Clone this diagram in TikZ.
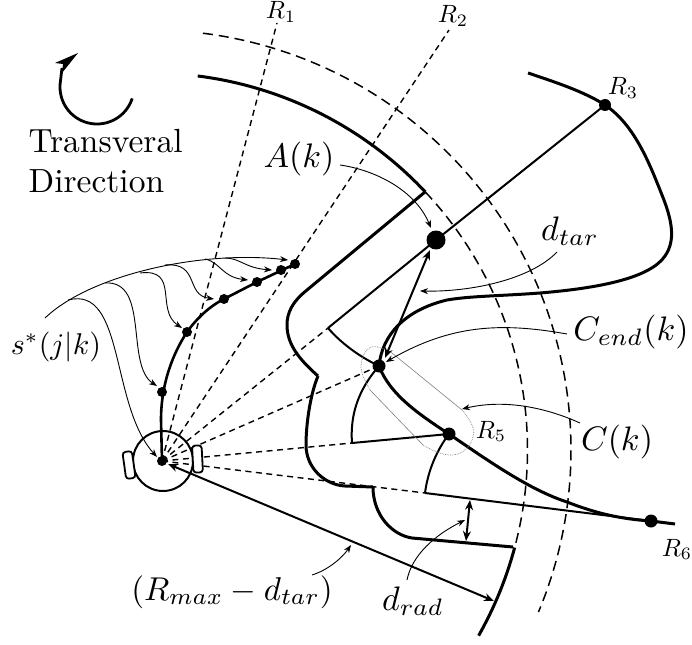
\documentclass[tikz,border=0pt]{standalone}
\usetikzlibrary{arrows.meta}
\tikzset{
  every picture/.style={x=1pt,y=-1pt},
  heavy/.style={line width=3pt,line join=round},
  solidline/.style={line width=2pt},
  rayline/.style={line width=1.4pt,dash pattern=on 6pt off 4.5pt},
  arcdash/.style={line width=1.5pt,dash pattern=on 10pt off 6pt},
  thinline/.style={line width=0.9pt},
  dotnode/.style={circle,fill=black,inner sep=0pt,minimum size=#1},
  biglabel/.style={scale=3.4,inner sep=0pt},
  rlabel/.style={scale=2.5,inner sep=0pt},
  wordlabel/.style={scale=3.35,inner sep=0pt},
  tipA/.style={-{Stealth[length=8pt,width=6pt]}},
  tipB/.style={{Stealth[length=10pt,width=8pt]}-{Stealth[length=10pt,width=8pt]}},
  wheel/.style={draw,line width=1.8pt,rounded corners=3pt,minimum width=9.5pt,minimum height=27pt,inner sep=0pt,fill=white}
}
\begin{document}
\begin{tikzpicture}
\useasboundingbox (0,0) rectangle (692,644);
% key coordinates
\coordinate (O) at (162,461);
\coordinate (rayA) at (277,23);
\coordinate (rayB) at (449,30);
\coordinate (elbowA) at (328,328);
\coordinate (elbowB) at (352,443);
\coordinate (elbowC) at (425,493);
\coordinate (cend) at (379,366);
\coordinate (rfive) at (449,434);
\coordinate (rthree) at (605,105);
\coordinate (rsix) at (651,521);
\coordinate (target) at (436,240);
\coordinate (wall) at (494,601);
% dashed rays
\draw[rayline] (O) -- (rayA);
\draw[rayline] (O) -- (rayB);
\draw[rayline] (O) -- (elbowA);
\draw[rayline] (O) -- (cend);
\draw[rayline] (O) -- (elbowB);
\draw[rayline] (O) -- (elbowC);
% dashed arcs
\draw[arcdash] plot[domain=-82.9:22.7,samples=120] ({151+420*cos(\x)},{450+420*sin(\x)});
\draw[arcdash] plot[domain=-43.2:15,samples=80] ({150.5+377*cos(\x)},{450+377*sin(\x)});
% wall arcs
\draw[heavy] plot[domain=-82.8:-43.2,samples=60] ({150.5+377*cos(\x)},{450+377*sin(\x)});
\draw[heavy] plot[domain=15:29.5,samples=30] ({150.5+377*cos(\x)},{450+377*sin(\x)});
% corridor boundary
\draw[heavy] (425,192) -- (307,290) .. controls (292,302) and (287,313) .. (287,325)
   .. controls (287,345) and (300,360) .. (318,376);
\draw[heavy] (318,376) .. controls (310,395) and (306,425) .. (306,445)
   .. controls (306,468) and (325,485) .. (345,486) -- (373,487);
\draw[heavy] (373,487) .. controls (373,515) and (392,535) .. (412,538) -- (513,547);
% target solid lines
\draw[solidline] (elbowA) -- (target) -- (rthree);
\draw[solidline] (elbowB) -- (rfive);
\draw[solidline] (elbowC) -- (rsix);
\draw[solidline] (elbowA) .. controls (340,342) and (358,356) .. (cend);
\draw[solidline] (elbowB) .. controls (350,415) and (358,390) .. (cend);
\draw[solidline] (elbowC) .. controls (428,470) and (437,450) .. (rfive);
% centreline
\draw[heavy] (528,73) .. controls (555,82) and (585,92) .. (rthree)
   .. controls (635,125) and (650,165) .. (662,195)
   .. controls (672,220) and (676,240) .. (665,256)
   .. controls (650,278) and (600,288) .. (540,293)
   .. controls (500,296) and (470,296) .. (447,300)
   .. controls (405,310) and (382,335) .. (cend);
\draw[heavy] (cend) .. controls (390,395) and (420,415) .. (rfive)
   .. controls (490,462) and (530,490) .. (567,502)
   .. controls (595,513) and (620,519) .. (rsix) -- (675,524);
% capsule
\draw[gray,line width=0.6pt] (392,353) -- (462,410);
\draw[gray,line width=0.6pt] (370,390) -- (423,445);
\draw[gray,line width=0.7pt,densely dotted] plot[smooth,tension=0.7] coordinates {(370,390) (362,373) (362,360) (368,349) (378,347) (392,353)};
\draw[gray,line width=0.7pt,densely dotted] plot[smooth,tension=0.7] coordinates {(462,410) (472,425) (473,437) (466,449) (453,455) (437,452) (423,445)};
% robot
\draw[line width=2pt] (163,461) circle (30);
\node[wheel,rotate=8] (wheelL) at (129,465) {};
\node[wheel,rotate=3] (wheelR) at (197.5,459) {};
% trajectory
\draw[heavy,line width=2.6pt] (O) -- (161,420) .. controls (161,385) and (172,355) .. (187,332)
   .. controls (197,318) and (210,306) .. (224,299) -- (257,282) -- (295,264);
\node[dotnode=10pt] (robot) at (O) {};
\node[dotnode=10pt] (sA) at (162,392) {};
\node[dotnode=10pt] (sB) at (187,332) {};
\node[dotnode=10pt] (sC) at (224,299) {};
\node[dotnode=10pt] (sD) at (257,282) {};
\node[dotnode=10pt] (sE) at (281,270) {};
\node[dotnode=10pt] (sF) at (295,264) {};
\node[dotnode=13pt] (cendDot) at (cend) {};
\node[dotnode=13pt] (rfiveDot) at (rfive) {};
\node[dotnode=12pt] (rthreeDot) at (rthree) {};
\node[dotnode=13pt] (rsixDot) at (rsix) {};
\node[dotnode=19pt] (targetDot) at (target) {};
% s* fan
\coordinate (fanStart) at (45,318);
\draw[thinline,tipA] (fanStart) .. controls (90,275) and (200,250) .. (288,260);
\draw[thinline,tipA] (68,300) .. controls (125,285) and (110,405) .. (157,457);
\draw[thinline,tipA] (105,283) .. controls (150,280) and (125,365) .. (157,386);
\draw[thinline,tipA] (140,273) .. controls (180,268) and (155,310) .. (182,328);
\draw[thinline,tipA] (165,265) .. controls (200,262) and (185,295) .. (214,299);
\draw[thinline,tipA] (205,259) .. controls (220,262) and (222,277) .. (248,280);
\draw[thinline,tipA] (225,258) .. controls (240,258) and (245,268) .. (272,270);
% annotation arrows
\coordinate (aStart) at (340,165);
\draw[thinline,tipA] (aStart) .. controls (375,170) and (415,190) .. (431,228);
\coordinate (dtarStart) at (557,252);
\draw[thinline,tipA] (dtarStart) .. controls (530,280) and (470,292) .. (420,291);
\coordinate (cendStart) at (567,334);
\draw[thinline,tipA] (cendStart) .. controls (500,322) and (450,325) .. (386,362);
\coordinate (cStart) at (580,423);
\draw[thinline,tipA] (cStart) .. controls (540,405) and (500,400) .. (462,409);
\coordinate (dradStart) at (407,580);
\draw[thinline,tipA] (dradStart) .. controls (412,555) and (435,535) .. (465,520);
\coordinate (rmaxStart) at (312,575);
\draw[thinline,tipA] (rmaxStart) .. controls (328,570) and (342,558) .. (351,545);
% dimension arrows
\coordinate (gapTop) at (470,500);
\coordinate (gapBot) at (466,541);
\draw[solidline,tipB] (430,250) -- (385,358);
\draw[solidline,tipB] (gapTop) -- (gapBot);
\draw[solidline,tipB] (168,464) -- (wall);
% transversal arrow
\draw[line width=2.8pt] plot[domain=18:185,samples=50] ({97+37*cos(\x)},{87+37*sin(\x)}) -- (62,68);
\coordinate (turnTip) at (78,53);
\fill (turnTip) -- (55,63) -- (63,64) -- (62,73) -- cycle;
% labels
\node[wordlabel,anchor=base west] (wordA) at (28,153) {Transveral};
\node[wordlabel,anchor=base west] (wordB) at (28,193) {Direction};
\node[biglabel,anchor=base] (labA) at (299,168) {$A(k)$};
\node[scale=3.0,inner sep=0pt,anchor=base] (labS) at (56,354) {$s^*(j|k)$};
\node[biglabel,anchor=base] (labD) at (570,240) {$d_{tar}$};
\node[biglabel,anchor=base] (labE) at (631,340) {$C_{end}(k)$};
\node[biglabel,anchor=base] (labC) at (617,450) {$C(k)$};
\node[biglabel,anchor=base] (labR) at (413,610) {$d_{rad}$};
\node[scale=3.3,inner sep=0pt,anchor=base] (labM) at (232,600) {$(R_{max}-d_{tar})$};
\node[rlabel,anchor=base] (r1) at (281,19) {$R_1$};
\node[rlabel,anchor=base] (r2) at (453,23) {$R_2$};
\node[rlabel,anchor=base] (r3) at (623,95) {$R_3$};
\node[rlabel,anchor=base] (r5) at (491,438) {$R_5$};
\node[rlabel,anchor=base] (r6) at (677,556) {$R_6$};
\end{tikzpicture}
\end{document}
